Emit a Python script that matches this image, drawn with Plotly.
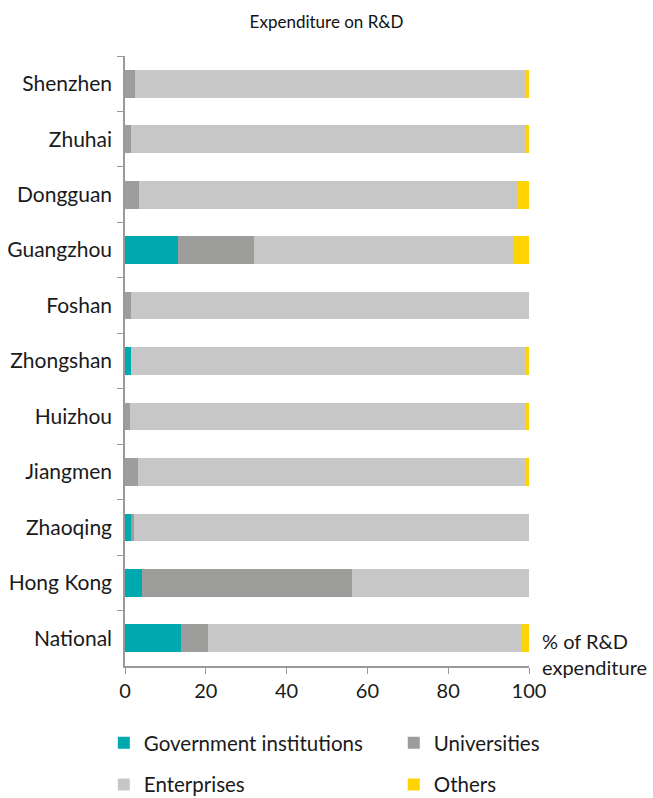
import plotly.graph_objects as go

cities = [
    "Shenzhen", "Zhuhai", "Dongguan", "Guangzhou", "Foshan", "Zhongshan",
    "Huizhou", "Jiangmen", "Zhaoqing", "Hong Kong", "National"
]

government = [0, 0, 0, 13.0, 0, 1.5, 0, 0, 1.4, 4.3, 13.9]
universities = [2.5, 1.4, 3.4, 19.0, 1.4, 0, 1.2, 3.2, 0.9, 51.9, 6.6]
others = [0.8, 0.8, 2.8, 3.8, 0, 0.8, 0.8, 0.8, 0, 0, 1.7]
enterprises = [
    round(100 - g - u - o, 1)
    for g, u, o in zip(government, universities, others)
]

# name, values, colour, which legend column
series = [
    ("Government institutions", government, "#00a8b0", "legend"),
    ("Universities", universities, "#9d9d9c", "legend2"),
    ("Enterprises", enterprises, "#c7c7c7", "legend"),
    ("Others", others, "#ffd400", "legend2"),
]

fig = go.Figure()

for name, values, color, leg in series:
    fig.add_trace(
        go.Bar(
            name=name,
            y=cities,
            x=values,
            orientation="h",
            legend=leg,
            legendgroup=name,
            marker=dict(color=color, line=dict(width=0)),
        )
    )

legend_style = dict(
    orientation="v",
    traceorder="grouped",
    tracegroupgap=12,
    xref="container",
    yref="container",
    xanchor="left",
    y=0.094,
    yanchor="top",
    font=dict(size=20.5),
    bgcolor="rgba(0,0,0,0)",
)

fig.update_layout(
    barmode="stack",
    bargap=0.5,
    width=653,
    height=798,
    margin=dict(l=125, r=124, t=56, b=132, autoexpand=False),
    plot_bgcolor="white",
    paper_bgcolor="white",
    font=dict(family="Lato, Open Sans, sans-serif", size=20, color="#1a1a1a"),
    title=dict(
        text="Expenditure on R&D",
        x=0.5,
        xanchor="center",
        y=0.972,
        yanchor="middle",
        font=dict(size=17, color="#111111"),
    ),
    legend=dict(legend_style, x=0.159),
    legend2=dict(legend_style, x=0.603),
    showlegend=True,
)

fig.update_xaxes(
    range=[0, 100],
    tickvals=[0, 20, 40, 60, 80, 100],
    ticks="outside",
    ticklen=6,
    tickcolor="#999999",
    showline=True,
    linecolor="#999999",
    linewidth=1.5,
    showgrid=False,
    zeroline=False,
    tickangle=0,
    tickfont=dict(size=20),
)

fig.update_yaxes(
    categoryorder="array",
    categoryarray=cities,
    autorange="reversed",
    ticks="outside",
    tickson="boundaries",
    ticklen=6,
    tickcolor="#999999",
    showline=True,
    linecolor="#999999",
    linewidth=1.5,
    showgrid=False,
    ticklabelstandoff=7,
    tickfont=dict(size=21),
)

fig.add_annotation(
    text="% of R&D<br>expenditure",
    xref="paper",
    yref="paper",
    x=1.028,
    y=0.02,
    xanchor="left",
    yanchor="middle",
    align="left",
    showarrow=False,
    font=dict(size=20),
)

fig.write_html(
    "out.html",
    config={"displayModeBar": False},
    post_script="document.body.style.margin='0';",
)
